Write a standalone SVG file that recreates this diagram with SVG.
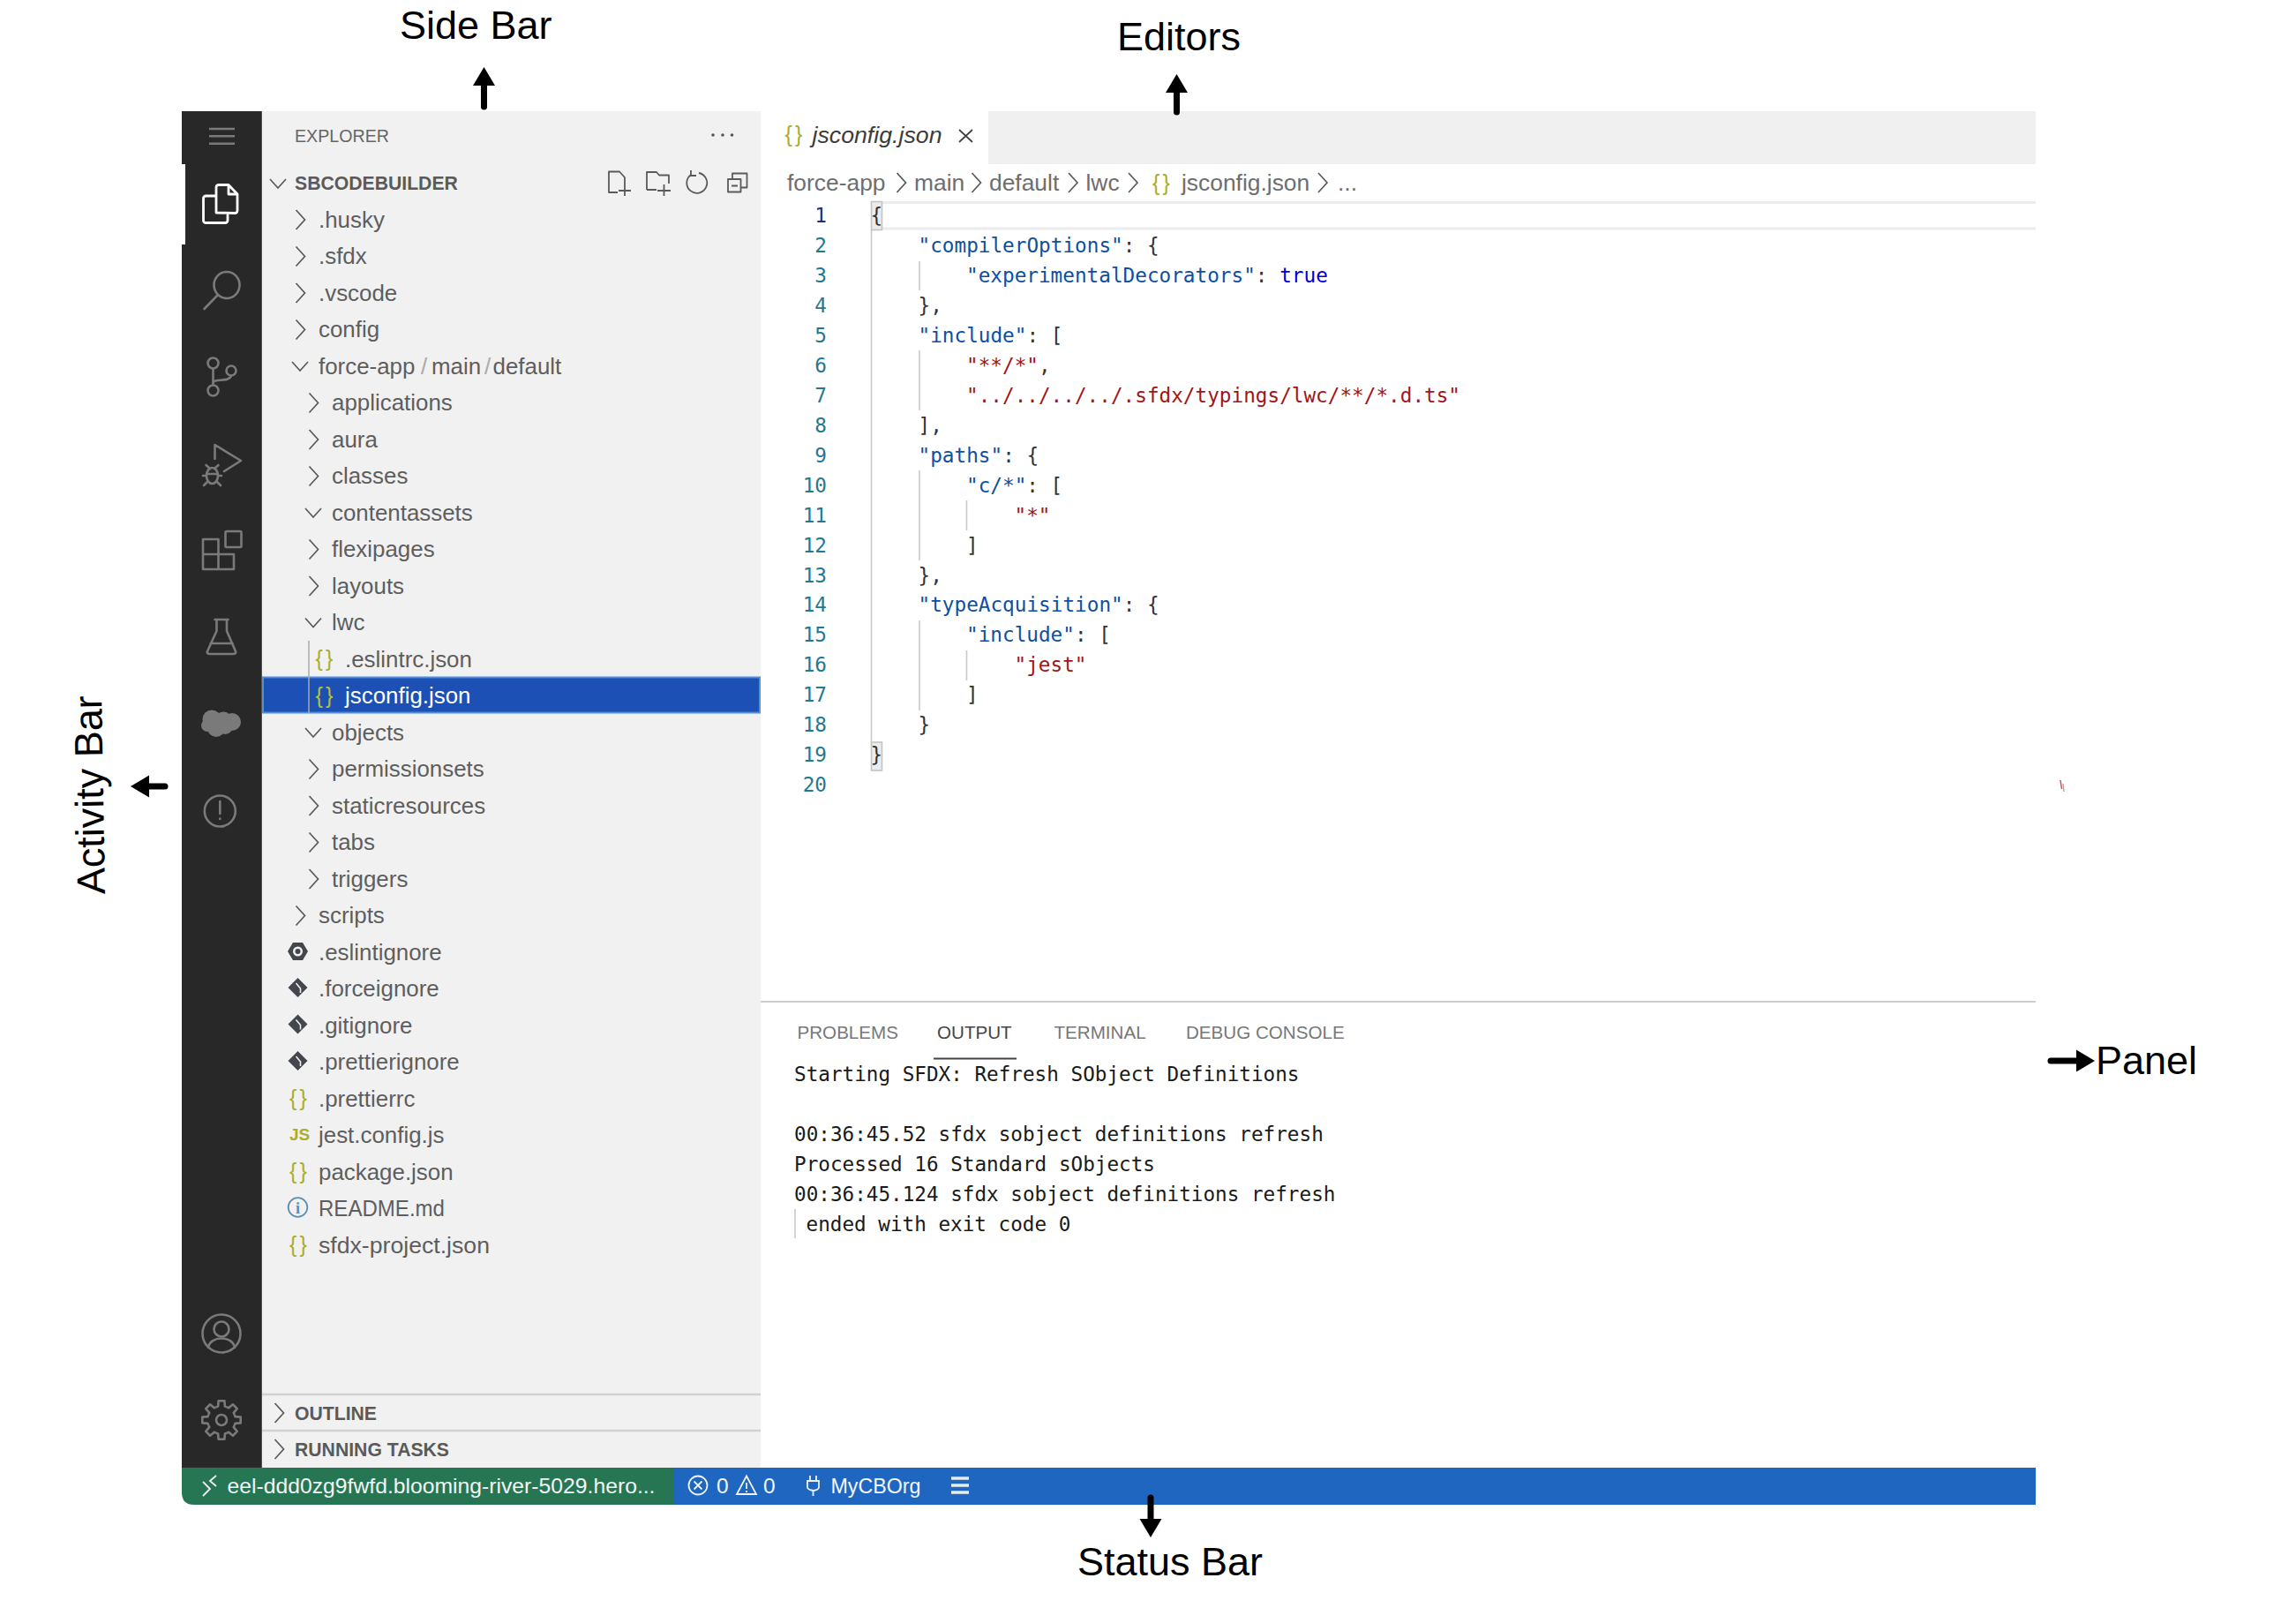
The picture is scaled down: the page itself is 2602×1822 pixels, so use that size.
<svg xmlns="http://www.w3.org/2000/svg" width="2602" height="1822" viewBox="0 0 2602 1822">
<style>
text{font-family:"Liberation Sans",Arial,sans-serif}
.row{font-size:25.9px;fill:#5e5e5e}
.hd{font-size:21.2px;font-weight:700;fill:#5a5a5a}
.crumb{font-size:26.4px;fill:#6e6e6e}
.ptab{font-size:20.6px;fill:#777}
.st{font-size:24.5px;fill:#f2f6f8}
.lab{font-size:45px;fill:#000}
.brace{font-size:25px;letter-spacing:-1.9px;fill:#a9ae2e}
.mono{font-family:"DejaVu Sans Mono",monospace;font-size:22.7px;fill:#333}
.ln{fill:#237893;text-anchor:end}
.k{fill:#0f4ea0}.s{fill:#a31515}.b{fill:#0000e0}
.out{fill:#1a1a1a;font-size:22.65px}
.ai{fill:none;stroke:#7a7a7a;stroke-width:2.6;stroke-linecap:round;stroke-linejoin:round}
.ti{fill:none;stroke:#5a5a5a;stroke-width:1.8;stroke-linejoin:round}
.g{stroke:#c9c9c9;stroke-width:1.6;fill:none}
.sti{fill:none;stroke:#eef3f8;stroke-width:1.8}
.conn{fill:none;stroke:#000;stroke-width:7;stroke-linecap:round}
</style>
<defs>
<path id="cr" d="M-5 -11L5 0L-5 11" fill="none" stroke="#5a5a5a" stroke-width="1.7"/>
<path id="cd" d="M-9 -5L0 5L9 -5" fill="none" stroke="#5a5a5a" stroke-width="1.7"/>
<g id="git"><path d="M0 -11L11 0L0 11L-11 0Z" fill="#43474c"/><path d="M-2 -5L3 1V6" stroke="#f0f0f0" stroke-width="1.6" fill="none"/></g>
<path id="tooth" d="M14.8 -6.1L15.5 -3.9L21.7 -3.4L21.7 3.4L15.5 3.9L14.8 6.1" fill="none" stroke="#7a7a7a" stroke-width="2.6" stroke-linejoin="round"/>
<marker id="arrow" markerUnits="userSpaceOnUse" markerWidth="24" markerHeight="30" refX="0" refY="0" orient="auto" viewBox="0 -15 24 30"><path d="M0 -12.5L21 0L0 12.5Z" fill="#000"/></marker>
</defs>
<rect width="2602" height="1822" fill="#fff"/>

<g id="editors">
<rect x="1120" y="126" width="1187" height="60" fill="#f0f0f0"/>
<text class="brace" x="889.500" y="161">{ }</text>
<text x="920.500" y="162" textLength="147" lengthAdjust="spacingAndGlyphs" style="font-size:26px;font-style:italic;fill:#3c3c3c">jsconfig.json</text>
<path d="M1087 147L1102 161M1102 147L1087 161" stroke="#444" stroke-width="1.800" fill="none"/>
<text class="crumb" x="892" y="216">force-app</text>
<use href="#cr" x="1021.500" y="207"/>
<text class="crumb" x="1036" y="216">main</text>
<use href="#cr" x="1106.500" y="207"/>
<text class="crumb" x="1121" y="216">default</text>
<use href="#cr" x="1216" y="207"/>
<text class="crumb" x="1230.500" y="216">lwc</text>
<use href="#cr" x="1284" y="207"/>
<text class="brace" x="1306" y="216">{ }</text>
<text class="crumb" x="1339" y="216">jsconfig.json</text>
<use href="#cr" x="1499" y="207"/>
<text class="crumb" x="1516" y="216">...</text>
<path d="M999 229.500H2307M999 259H2307" stroke="#ececec" stroke-width="3" fill="none"/>
<rect x="987.500" y="228.500" width="12" height="32" fill="#ececec" stroke="#c4c4c4" stroke-width="1.600"/>
<rect x="987.500" y="841" width="12" height="32" fill="#ececec" stroke="#c4c4c4" stroke-width="1.600"/>
<path class="g" d="M987.500 261V841M1042 296V329M1042 397V465M1042 533V635M1095.500 567V601M1042 703V805M1095.500 737V771"/>
<g>
<text class="mono ln" x="937" y="251.700" style="fill:#1c2f7a">1</text>
<text class="mono ln" x="937" y="285.700">2</text>
<text class="mono ln" x="937" y="319.700">3</text>
<text class="mono ln" x="937" y="353.700">4</text>
<text class="mono ln" x="937" y="387.700">5</text>
<text class="mono ln" x="937" y="421.700">6</text>
<text class="mono ln" x="937" y="455.700">7</text>
<text class="mono ln" x="937" y="489.700">8</text>
<text class="mono ln" x="937" y="523.700">9</text>
<text class="mono ln" x="937" y="557.700">10</text>
<text class="mono ln" x="937" y="591.700">11</text>
<text class="mono ln" x="937" y="625.700">12</text>
<text class="mono ln" x="937" y="659.700">13</text>
<text class="mono ln" x="937" y="693.400">14</text>
<text class="mono ln" x="937" y="727.300">15</text>
<text class="mono ln" x="937" y="761.200">16</text>
<text class="mono ln" x="937" y="795.200">17</text>
<text class="mono ln" x="937" y="829.200">18</text>
<text class="mono ln" x="937" y="863.100">19</text>
<text class="mono ln" x="937" y="897.100">20</text>
<text class="mono" x="986.500" y="251.700">{</text>
<text class="mono" x="1040.500" y="285.700"><tspan class="k">"compilerOptions"</tspan>: {</text>
<text class="mono" x="1095" y="319.700"><tspan class="k">"experimentalDecorators"</tspan>: <tspan class="b">true</tspan></text>
<text class="mono" x="1040.500" y="353.700">},</text>
<text class="mono" x="1040.500" y="387.700"><tspan class="k">"include"</tspan>: [</text>
<text class="mono" x="1095" y="421.700"><tspan class="s">"**/*"</tspan>,</text>
<text class="mono s" x="1095" y="455.700">"../../../../.sfdx/typings/lwc/**/*.d.ts"</text>
<text class="mono" x="1040.500" y="489.700">],</text>
<text class="mono" x="1040.500" y="523.700"><tspan class="k">"paths"</tspan>: {</text>
<text class="mono" x="1095" y="557.700"><tspan class="k">"c/*"</tspan>: [</text>
<text class="mono s" x="1149.500" y="591.700">"*"</text>
<text class="mono" x="1095" y="625.700">]</text>
<text class="mono" x="1040.500" y="659.700">},</text>
<text class="mono" x="1040.500" y="693.400"><tspan class="k">"typeAcquisition"</tspan>: {</text>
<text class="mono" x="1095" y="727.300"><tspan class="k">"include"</tspan>: [</text>
<text class="mono s" x="1149.500" y="761.200">"jest"</text>
<text class="mono" x="1095" y="795.200">]</text>
<text class="mono" x="1040.500" y="829.200">}</text>
<text class="mono" x="986.500" y="863.100">}</text>
</g>
<path d="M2335 884L2336.500 894" stroke="#d05050" stroke-width="1.500"/>
<path d="M2338 888L2339 897" stroke="#aaa" stroke-width="1.500"/>
</g>

<g id="panel">
<path d="M862 1135H2307" stroke="#cfcfcf" stroke-width="2"/>
<text class="ptab" x="903.500" y="1176.500">PROBLEMS</text>
<text class="ptab" x="1062" y="1176.500" style="fill:#444">OUTPUT</text>
<text class="ptab" x="1194.500" y="1176.500">TERMINAL</text>
<text class="ptab" x="1344" y="1176.500">DEBUG CONSOLE</text>
<path d="M1058 1199.500H1152" stroke="#444" stroke-width="2"/>
<text class="mono out" x="900" y="1224.500">Starting SFDX: Refresh SObject Definitions</text>
<text class="mono out" x="900" y="1292.700">00:36:45.52 sfdx sobject definitions refresh</text>
<text class="mono out" x="900" y="1326.700">Processed 16 Standard sObjects</text>
<text class="mono out" x="900" y="1360.700">00:36:45.124 sfdx sobject definitions refresh</text>
<text class="mono out" x="913.500" y="1394.700">ended with exit code 0</text>
<path class="g" d="M901 1370V1403"/>
</g>

<g id="side-bar">
<rect x="297" y="126" width="565" height="1537" fill="#f1f1f1"/>
<text x="334" y="160.500" textLength="107" lengthAdjust="spacingAndGlyphs" style="font-size:20px;fill:#666">EXPLORER</text>
<circle cx="808" cy="153" r="1.800" fill="#555"/><circle cx="819" cy="153" r="1.800" fill="#555"/><circle cx="829.500" cy="153" r="1.800" fill="#555"/>
<use href="#cd" x="315" y="208"/>
<text class="hd" x="334" y="215">SBCODEBUILDER</text>
<path class="ti" d="M708 212V201L702 194.500H690V218H700M701 216H715M708 209.500V222"/>
<path class="ti" d="M733 215V195H744L747 198.500H758V208M733 215H744M745 216H760M752.500 209V222"/>
<path class="ti" d="M783 198A11.500 11.500 0 1 0 792 196M783 193V199H789"/>
<path class="ti" d="M825 203H839.500V217.500H825ZM830 203V196.500H846.500V212.500H840M829 210.500H836"/>

<rect x="298" y="767.500" width="563" height="40" fill="#1c50b4" stroke="#4d8fe0" stroke-width="2"/>
<path d="M350 726V808" stroke="#a8a8a8" stroke-width="1.500"/>

<use href="#cr" x="340.500" y="249"/><text class="row" x="361" y="257.500">.husky</text>
<use href="#cr" x="340.500" y="290.500"/><text class="row" x="361" y="299">.sfdx</text>
<use href="#cr" x="340.500" y="332"/><text class="row" x="361" y="340.500">.vscode</text>
<use href="#cr" x="340.500" y="373.500"/><text class="row" x="361" y="382">config</text>
<use href="#cd" x="340" y="415"/><text class="row" x="361" y="423.500">force-app</text><text class="row" x="477" y="423.500" style="fill:#aaa">/</text><text class="row" x="489" y="423.500">main</text><text class="row" x="549" y="423.500" style="fill:#aaa">/</text><text class="row" x="558.500" y="423.500">default</text>
<use href="#cr" x="355.500" y="456.500"/><text class="row" x="376" y="465">applications</text>
<use href="#cr" x="355.500" y="498"/><text class="row" x="376" y="506.500">aura</text>
<use href="#cr" x="355.500" y="539.500"/><text class="row" x="376" y="548">classes</text>
<use href="#cd" x="355" y="581"/><text class="row" x="376" y="589.500">contentassets</text>
<use href="#cr" x="355.500" y="622.500"/><text class="row" x="376" y="631">flexipages</text>
<use href="#cr" x="355.500" y="664"/><text class="row" x="376" y="672.500">layouts</text>
<use href="#cd" x="355" y="705.500"/><text class="row" x="376" y="714">lwc</text>
<text class="brace" x="357.500" y="755">{ }</text><text class="row" x="391" y="755.500">.eslintrc.json</text>
<text class="brace" x="357.500" y="796.500" style="fill:#b9be3a">{ }</text><text class="row" x="391" y="797" style="fill:#fff">jsconfig.json</text>
<use href="#cd" x="355" y="830"/><text class="row" x="376" y="838.500">objects</text>
<use href="#cr" x="355.500" y="871.500"/><text class="row" x="376" y="880">permissionsets</text>
<use href="#cr" x="355.500" y="913"/><text class="row" x="376" y="921.500">staticresources</text>
<use href="#cr" x="355.500" y="954.500"/><text class="row" x="376" y="963">tabs</text>
<use href="#cr" x="355.500" y="996"/><text class="row" x="376" y="1004.500">triggers</text>
<use href="#cr" x="340.500" y="1037.500"/><text class="row" x="361" y="1046">scripts</text>
<path d="M332 1068H343L349 1078L343 1088H332L326 1078Z" fill="#43474c"/><circle cx="337.500" cy="1078" r="5.500" fill="#f0f0f0"/><circle cx="337.500" cy="1078" r="3" fill="#43474c"/>
<text class="row" x="361" y="1087.500">.eslintignore</text>
<use href="#git" x="337.500" y="1119"/><text class="row" x="361" y="1129">.forceignore</text>
<use href="#git" x="337.500" y="1160.500"/><text class="row" x="361" y="1170.500">.gitignore</text>
<use href="#git" x="337.500" y="1202"/><text class="row" x="361" y="1212">.prettierignore</text>
<text class="brace" x="328" y="1253">{ }</text><text class="row" x="361" y="1253.500">.prettierrc</text>
<text x="328" y="1292" style="font-size:19px;font-weight:700;fill:#a9ae2e">JS</text><text class="row" x="361" y="1295">jest.config.js</text>
<text class="brace" x="328" y="1336">{ }</text><text class="row" x="361" y="1336.500">package.json</text>
<circle cx="337.500" cy="1368" r="10.800" fill="none" stroke="#5a8fb5" stroke-width="1.800"/><text x="337.500" y="1375" text-anchor="middle" style="font-size:18px;font-weight:700;fill:#5a8fb5;font-family:'Liberation Serif',serif">i</text>
<text class="row" x="361" y="1378" textLength="143" lengthAdjust="spacingAndGlyphs">README.md</text>
<text class="brace" x="328" y="1419">{ }</text><text class="row" x="361" y="1419.500" textLength="194" lengthAdjust="spacingAndGlyphs">sfdx-project.json</text>
<path d="M297 1580H862M297 1621H862" stroke="#d2d2d2" stroke-width="2.400"/>
<use href="#cr" x="316.500" y="1601"/><text class="hd" x="334" y="1608.500">OUTLINE</text>
<use href="#cr" x="316.500" y="1642"/><text class="hd" x="334" y="1649.500">RUNNING TASKS</text>
</g>

<g id="activity-bar">
<rect x="206" y="126" width="90.500" height="1537" fill="#282828"/>
<path d="M296.500 126V1663" stroke="#555" stroke-width="1"/>
<rect x="206" y="186" width="4" height="91" fill="#fff"/>
<path class="ai" d="M237 146H266M237 154.300H266M237 162.700H266" style="stroke-linecap:butt"/>
<path d="M245 241V212A3 3 0 0 1 248 209.500H259L269 220V239A3 3 0 0 1 266 241.500ZM259 209.500V220H269M245 222H233A3 3 0 0 0 230.500 225V250A3 3 0 0 0 233 252.500H255A3 3 0 0 0 258 250V241.500" fill="none" stroke="#fff" stroke-width="2.800" stroke-linejoin="round"/>
<ellipse class="ai" cx="257" cy="323" rx="14.500" ry="15"/><path class="ai" d="M246 335L231.500 350"/>
<circle class="ai" cx="241.500" cy="411.500" r="6"/><circle class="ai" cx="241.500" cy="442.500" r="6"/><circle class="ai" cx="262" cy="420" r="5.500"/>
<path class="ai" d="M241.500 417.500V436.500M241.500 434C242 428 260 434 262 425.500"/>
<path class="ai" d="M243.500 520V504L273 522L254 534"/>
<ellipse class="ai" cx="240.500" cy="539" rx="6.500" ry="9"/><path class="ai" d="M233.500 527L238 531M247.500 527L243 531M230 539H234M247 539H251M231 550L235 546M250 550L246 546M234 537H247"/>
<path class="ai" d="M230 645V611H247.500V645M230 645H265V628H230M247.500 628V645"/><rect class="ai" x="255.500" y="602" width="18" height="18" rx="1"/>
<path class="ai" d="M243.500 702H258.500M245.500 702V715L235 738Q234 741 238 741H264Q268 741 267 738L257 715V702M238.500 729H263.500"/>
<g fill="#7a7a7a"><circle cx="240" cy="815" r="10.500"/><circle cx="253" cy="816" r="9.500"/><circle cx="263" cy="818" r="10"/><circle cx="245" cy="825" r="10"/><circle cx="255" cy="823" r="9"/><circle cx="235" cy="822" r="7"/></g>
<circle class="ai" cx="249.300" cy="919" r="17.500"/><path class="ai" d="M249.300 908V922M249.300 927.500V928"/>
<circle class="ai" cx="251" cy="1511" r="21.500"/><circle class="ai" cx="251" cy="1506" r="8.500"/><path class="ai" d="M236 1527C238 1513 264 1513 266 1527"/>
<g transform="translate(251 1609)"><circle r="6" fill="none" stroke="#7a7a7a" stroke-width="2.600"/>
<use href="#tooth"/><use href="#tooth" transform="rotate(45)"/><use href="#tooth" transform="rotate(90)"/><use href="#tooth" transform="rotate(135)"/><use href="#tooth" transform="rotate(180)"/><use href="#tooth" transform="rotate(225)"/><use href="#tooth" transform="rotate(270)"/><use href="#tooth" transform="rotate(315)"/></g>
</g>

<g id="status-bar">
<rect x="763" y="1663" width="1544" height="42" fill="#1f66c1"/>
<path d="M206 1663H763V1705H220Q206 1705 206 1691Z" fill="#277653"/>
<path class="sti" d="M230 1679L238 1687L230 1695M245 1672L238 1678L245 1684"/>
<text class="st" x="257.500" y="1692" textLength="485" lengthAdjust="spacingAndGlyphs">eel-ddd0zg9fwfd.blooming-river-5029.hero...</text>
<circle class="sti" cx="791" cy="1683" r="10.500"/><path class="sti" d="M786.500 1678.500L795.500 1687.500M795.500 1678.500L786.500 1687.500"/>
<text class="st" x="812" y="1692">0</text>
<path class="sti" d="M846 1672.500L857 1693H835ZM846 1680V1687M846 1689V1691"/>
<text class="st" x="865" y="1692">0</text>
<path class="sti" d="M918 1672V1678M925 1672V1678M915 1678H928V1685Q928 1688 922 1689Q915 1688 915 1685ZM921.500 1689V1695"/>
<text class="st" x="941.500" y="1692" textLength="102" lengthAdjust="spacingAndGlyphs">MyCBOrg</text>
<path d="M1078 1675H1098M1078 1683H1098M1078 1691H1098" stroke="#e6edf6" stroke-width="3.600" fill="none"/>
</g>

<g id="labels">
<text class="lab" x="453" y="44">Side Bar</text>
<text class="lab" x="1266" y="57">Editors</text>
<text class="lab" x="1221" y="1785">Status Bar</text>
<text class="lab" x="2375" y="1217">Panel</text>
<text class="lab" transform="translate(119 1013) rotate(-91)">Activity Bar</text>
</g>

<g id="connectors">
<path class="conn" marker-end="url(#arrow)" d="M548.500 121V97"/>
<path class="conn" marker-end="url(#arrow)" d="M1333.500 127V105"/>
<path class="conn" marker-end="url(#arrow)" d="M1304 1697V1721"/>
<path class="conn" marker-end="url(#arrow)" d="M187 891H169"/>
<path class="conn" marker-end="url(#arrow)" d="M2324 1202H2353"/>
</g>
</svg>
